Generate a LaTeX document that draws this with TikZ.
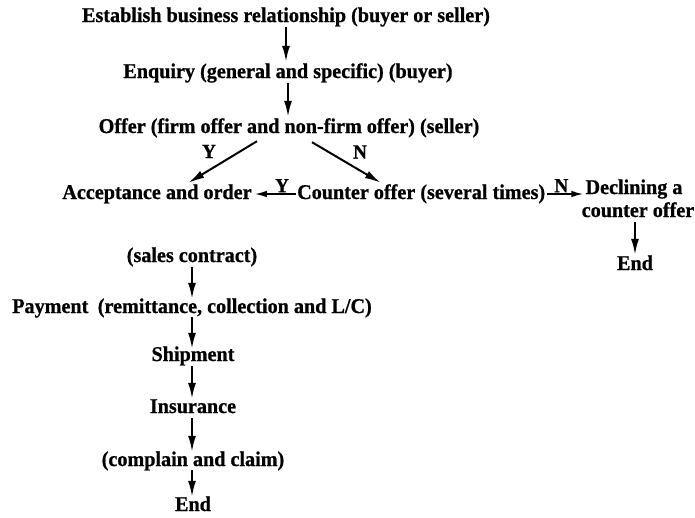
\documentclass[tikz,border=0pt]{standalone}
\usepackage{fontspec}
\setmainfont{Liberation Serif}
\newfontfamily\dfont{Liberation Serif}[FakeStretch=0.96, BoldFeatures={FakeBold=0.8}]
\usetikzlibrary{arrows.meta}
\begin{document}
\begin{tikzpicture}[x=1pt,y=-1pt,
  txt/.style={font=\dfont\fontsize{21}{22}\selectfont\bfseries, inner sep=0pt, text height=14pt, text depth=4pt, anchor=base},
  lbl/.style={font=\dfont\fontsize{20}{22}\selectfont\bfseries, inner sep=0pt},
  arr/.style={line width=2pt, -{Latex[length=16pt,width=8pt]}},
  harr/.style={line width=1.6pt, -{Latex[length=12pt,width=6.5pt]}}]
\useasboundingbox (0,0) rectangle (695,517);
\fill[white] (0,0) rectangle (695,517);
% main chain
\node[txt] (l1) at (286,22) {Establish business relationship (buyer or seller)};
\node[txt] (l2) at (288,78) {Enquiry (general and specific) (buyer)};
\node[txt] (l3) at (289,133) {Offer (firm offer and non-firm offer) (seller)};
\node[txt] (acc) at (157,199) {Acceptance and order};
\node[txt, anchor=base west] (cnt) at (297,199) {Counter offer (several times)};
\node[txt] (dec1) at (634,194) {Declining a};
\node[txt] (dec2) at (638,217) {counter offer};
\node[txt] (endr) at (635,270) {End};
% lower chain
\node[txt] (sc) at (192,262) {(sales contract)};
\node[txt] (pay) at (192,313) {Payment\hspace{0.45em}(remittance, collection and L/C)};
\node[txt] (ship) at (193,361) {Shipment};
\node[txt] (ins) at (193,413) {Insurance};
\node[txt] (comp) at (193,466) {(complain and claim)};
\node[txt] (endb) at (193,511) {End};
% arrows
\draw[arr, shorten <=1pt, shorten >=2pt] (l1.south) -- (l1.south |- l2.north);
\draw[arr, shorten <=1pt, shorten >=2pt] (l2.south) -- (l2.south |- l3.north);
\draw[arr, shorten >=4pt] ([xshift=-32pt,yshift=-4pt]l3.south) -- node[lbl, above left=4pt] (ly1) {Y} ([xshift=28pt]acc.north);
\draw[arr, shorten >=4pt] ([xshift=23pt,yshift=-5pt]l3.south) -- node[lbl, above right=4pt] (ln1) {N} ([xshift=-37pt]cnt.north);
\draw[harr, shorten <=1pt, shorten >=3pt] (cnt.west) -- node[lbl, pos=0.33, above=1pt] (ly2) {Y} (acc.east);
\draw[harr, shorten <=2pt, shorten >=2pt] (cnt.east) -- node[lbl, pos=0.4, above=1pt] (ln2) {N} (dec1.west |- cnt.west);
\draw[arr, shorten <=1pt, shorten >=1pt] (endr.north |- dec2.south) -- (endr.north);
\draw[arr, shorten <=1pt, shorten >=0pt] (sc.south) -- (sc.south |- pay.north);
\draw[arr, shorten <=0pt, shorten >=-2pt] (sc.south |- pay.south) -- (sc.south |- ship.north);
\draw[arr, shorten <=1pt, shorten >=0pt] (sc.south |- ship.south) -- (sc.south |- ins.north);
\draw[arr, shorten <=1pt, shorten >=0pt] (sc.south |- ins.south) -- (sc.south |- comp.north);
\draw[arr, shorten <=0pt, shorten >=0pt] (sc.south |- comp.south) -- (sc.south |- endb.north);
\end{tikzpicture}
\end{document}
